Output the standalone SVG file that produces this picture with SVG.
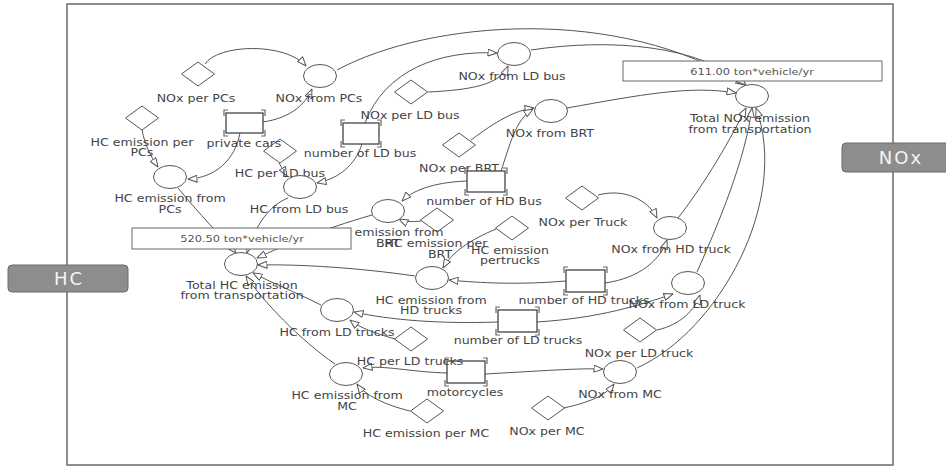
<svg xmlns="http://www.w3.org/2000/svg" width="946" height="466" viewBox="0 0 946 466">
<defs>
<marker id="arr" markerUnits="userSpaceOnUse" markerWidth="10" markerHeight="8" viewBox="0 0 10 8" refX="9.5" refY="4" orient="auto">
<path d="M0.5,0.5 L9.5,4 L0.5,7.5 Z" fill="#fff" stroke="#555" stroke-width="1"/>
</marker>
</defs>
<style>
.frame{fill:none;stroke:#6a6a6a;stroke-width:1.5}
.tab{fill:#8d8d8d;stroke:#6a6a6a;stroke-width:1}
.tabt{font-family:"DejaVu Sans",sans-serif;font-size:18px;fill:#f4f4f4;text-anchor:middle;letter-spacing:2px}
.c{fill:#fff;stroke:#555;stroke-width:1}
.d{fill:none;stroke:#555;stroke-width:1}
.r{fill:#fff;stroke:#444;stroke-width:1.3}
.br{fill:none;stroke:#666;stroke-width:1.2}
.l{font-family:"DejaVu Sans",sans-serif;font-size:10.5px;fill:#444;text-anchor:middle}
.v{font-family:"DejaVu Sans",sans-serif;font-size:9.5px;fill:#555;text-anchor:middle}
.vb{fill:#fff;stroke:#666;stroke-width:1}
.e{fill:none;stroke:#555;stroke-width:1;marker-end:url(#arr)}
</style>
<rect width="946" height="466" fill="#fff"/>
<rect class="frame" x="67" y="4" width="826" height="461"/>
<g id="tab-HC"><rect class="tab" x="8" y="265" width="120" height="27" rx="4"/><text class="tabt" x="69" y="285">HC</text></g>
<g id="tab-NOx"><rect class="tab" x="842" y="143" width="116" height="29" rx="4"/><text class="tabt" x="901" y="164">NOx</text></g>

<g id="connectors">
<path class="e" d="M205,64 C218,44 285,42 306,66"/>
<path class="e" d="M263,122 C290,118 305,105 312,89"/>
<path class="e" d="M337,70 C430,20 620,5 745,85"/>
<path class="e" d="M531,50 C610,38 700,45 746,85"/>
<path class="e" d="M365,123 C385,70 440,50 497,53"/>
<path class="e" d="M428,92 C470,90 500,85 508,66"/>
<path class="e" d="M471,140 C495,122 515,110 534,108"/>
<path class="e" d="M501,171 C510,145 515,120 533,109"/>
<path class="e" d="M567,108 C640,95 690,85 736,93"/>
<path class="e" d="M598,195 C625,188 648,200 657,218"/>
<path class="e" d="M605,283 C640,278 660,260 667,240"/>
<path class="e" d="M678,218 C700,190 725,150 746,108"/>
<path class="e" d="M697,272 C720,220 745,160 752,108"/>
<path class="e" d="M537,322 C600,318 640,305 673,294"/>
<path class="e" d="M657,330 C680,325 695,310 700,295"/>
<path class="e" d="M637,368 C720,330 790,200 756,108"/>
<path class="e" d="M485,374 C540,371 580,368 603,369"/>
<path class="e" d="M564,408 C590,402 605,396 614,384"/>
<path class="e" d="M142,130 C145,145 150,155 158,167"/>
<path class="e" d="M240,133 C235,160 215,178 188,179"/>
<path class="e" d="M279,163 L287,176"/>
<path class="e" d="M362,144 C355,165 340,178 317,183"/>
<path class="e" d="M178,188 C200,215 220,235 236,253"/>
<path class="e" d="M288,198 C270,205 255,225 247,253"/>
<path class="e" d="M467,181 C440,182 415,188 402,201"/>
<path class="e" d="M421,221 C412,222 405,222 399,219"/>
<path class="e" d="M372,215 C320,230 285,245 257,258"/>
<path class="e" d="M496,229 C470,240 452,252 443,268"/>
<path class="e" d="M566,281 C520,285 480,283 449,280"/>
<path class="e" d="M415,276 C360,268 300,264 258,265"/>
<path class="e" d="M498,322 C440,324 390,320 354,312"/>
<path class="e" d="M395,339 C375,333 360,328 350,320"/>
<path class="e" d="M321,305 C295,292 270,282 253,273"/>
<path class="e" d="M447,373 C410,372 385,365 363,368"/>
<path class="e" d="M410,411 C385,405 365,395 357,384"/>
<path class="e" d="M335,364 C300,340 262,300 246,276"/>
</g>

<g id="nox-per-pcs"><polygon class="d" points="198,62 214.5,74 198,86 181.5,74"/><text class="l" transform="scale(1.2,1)" x="163.3" y="102">NOx per PCs</text></g>
<g id="nox-from-pcs"><ellipse class="c" cx="320" cy="76" rx="16.5" ry="11.5"/><text class="l" transform="scale(1.2,1)" x="265.8" y="102">NOx from PCs</text></g>
<g id="nox-from-ld-bus"><ellipse class="c" cx="514" cy="54" rx="16.5" ry="11.5"/><text class="l" transform="scale(1.2,1)" x="426.7" y="80">NOx from LD bus</text></g>
<g id="nox-per-ld-bus"><polygon class="d" points="411,80 427.5,92 411,104 394.5,92"/><text class="l" transform="scale(1.2,1)" x="341.7" y="119">NOx per LD bus</text></g>
<g id="nox-from-brt"><ellipse class="c" cx="551" cy="111" rx="16.5" ry="11.5"/><text class="l" transform="scale(1.2,1)" x="458.3" y="137">NOx from BRT</text></g>
<g id="nox-per-brt"><polygon class="d" points="459,133 475.5,145 459,157 442.5,145"/><text class="l" transform="scale(1.2,1)" x="382.5" y="172">NOx per BRT</text></g>
<g id="total-nox"><ellipse class="c" cx="752" cy="96" rx="16.5" ry="11.5"/><text class="l" transform="scale(1.2,1)" x="625" y="122">Total NOx emission</text><text class="l" transform="scale(1.2,1)" x="625" y="133">from transportation</text></g>
<g id="nox-per-truck"><polygon class="d" points="582,186 598.5,198 582,210 565.5,198"/><text class="l" transform="scale(1.2,1)" x="485.8" y="226">NOx per Truck</text></g>
<g id="nox-from-hd-truck"><ellipse class="c" cx="670" cy="228" rx="16.5" ry="11.5"/><text class="l" transform="scale(1.2,1)" x="559.2" y="253">NOx from HD truck</text></g>
<g id="nox-from-ld-truck"><ellipse class="c" cx="688" cy="283" rx="16.5" ry="11.5"/><text class="l" transform="scale(1.2,1)" x="572.5" y="308">NOx from LD truck</text></g>
<g id="nox-per-ld-truck"><polygon class="d" points="640,318 656.5,330 640,342 623.5,330"/><text class="l" transform="scale(1.2,1)" x="532.5" y="357">NOx per LD truck</text></g>
<g id="nox-from-mc"><ellipse class="c" cx="620" cy="372" rx="16.5" ry="11.5"/><text class="l" transform="scale(1.2,1)" x="516.7" y="398">NOx from MC</text></g>
<g id="nox-per-mc"><polygon class="d" points="548,396 564.5,408 548,420 531.5,408"/><text class="l" transform="scale(1.2,1)" x="455.8" y="435">NOx per MC</text></g>

<g id="private-cars"><rect class="r" x="226" y="113" width="37" height="20"/><path class="br" d="M228,110 H224 V116 M261,110 H265 V116 M228,136 H224 V130 M261,136 H265 V130"/><text class="l" transform="scale(1.2,1)" x="203.3" y="147">private cars</text></g>
<g id="number-of-ld-bus"><rect class="r" x="343" y="123" width="36" height="21"/><path class="br" d="M345,120 H341 V126 M377,120 H381 V126 M345,147 H341 V141 M377,147 H381 V141"/><text class="l" transform="scale(1.2,1)" x="300" y="157">number of LD bus</text></g>
<g id="number-of-hd-bus"><rect class="r" x="467" y="171" width="38" height="21"/><path class="br" d="M469,168 H465 V174 M503,168 H507 V174 M469,195 H465 V189 M503,195 H507 V189"/><text class="l" transform="scale(1.2,1)" x="403.3" y="205">number of HD Bus</text></g>
<g id="number-of-hd-trucks"><rect class="r" x="566" y="270" width="39" height="22"/><path class="br" d="M568,267 H564 V273 M603,267 H607 V273 M568,295 H564 V289 M603,295 H607 V289"/><text class="l" transform="scale(1.2,1)" x="486.7" y="304">number of HD trucks</text></g>
<g id="number-of-ld-trucks"><rect class="r" x="498" y="310" width="39" height="22"/><path class="br" d="M500,307 H496 V313 M535,307 H539 V313 M500,335 H496 V329 M535,335 H539 V329"/><text class="l" transform="scale(1.2,1)" x="431.7" y="344">number of LD trucks</text></g>
<g id="motorcycles"><rect class="r" x="447" y="361" width="38" height="22"/><path class="br" d="M449,358 H445 V364 M483,358 H487 V364 M449,386 H445 V380 M483,386 H487 V380"/><text class="l" transform="scale(1.2,1)" x="387.5" y="396">motorcycles</text></g>

<g id="hc-per-pcs"><polygon class="d" points="142,106 158.5,118 142,130 125.5,118"/><text class="l" transform="scale(1.2,1)" x="118.3" y="146">HC emission per</text><text class="l" transform="scale(1.2,1)" x="118.3" y="156">PCs</text></g>
<g id="hc-from-pcs"><ellipse class="c" cx="170" cy="177" rx="16.5" ry="11.5"/><text class="l" transform="scale(1.2,1)" x="141.7" y="202">HC emission from</text><text class="l" transform="scale(1.2,1)" x="141.7" y="213">PCs</text></g>
<g id="hc-per-ld-bus"><polygon class="d" points="280,139 296.5,151 280,163 263.5,151"/><text class="l" transform="scale(1.2,1)" x="233.3" y="177">HC per LD bus</text></g>
<g id="hc-from-ld-bus"><ellipse class="c" cx="300" cy="187" rx="16.5" ry="11.5"/><text class="l" transform="scale(1.2,1)" x="249.2" y="213">HC from LD bus</text></g>
<g id="hc-from-brt"><ellipse class="c" cx="388" cy="211" rx="16.5" ry="11.5"/><text class="l" transform="scale(1.2,1)" x="323.3" y="236">HC emission from</text><text class="l" transform="scale(1.2,1)" x="323.3" y="247">BRT</text></g>
<g id="hc-per-brt"><polygon class="d" points="437,208 453.5,220 437,232 420.5,220"/><text class="l" transform="scale(1.2,1)" x="363.3" y="247">HC emission per</text><text class="l" transform="scale(1.2,1)" x="366.7" y="258">BRT</text></g>
<g id="hc-per-trucks"><polygon class="d" points="512,216 528.5,228 512,240 495.5,228"/><text class="l" transform="scale(1.2,1)" x="425" y="254">HC emission</text><text class="l" transform="scale(1.2,1)" x="425" y="264">pertrucks</text></g>
<g id="total-hc"><ellipse class="c" cx="241" cy="264" rx="16.5" ry="11.5"/><text class="l" transform="scale(1.2,1)" x="201.7" y="289">Total HC emission</text><text class="l" transform="scale(1.2,1)" x="201.7" y="299">from transportation</text></g>
<g id="hc-from-hd-trucks"><ellipse class="c" cx="432" cy="278" rx="16.5" ry="11.5"/><text class="l" transform="scale(1.2,1)" x="359.2" y="304">HC emission from</text><text class="l" transform="scale(1.2,1)" x="359.2" y="314">HD trucks</text></g>
<g id="hc-from-ld-trucks"><ellipse class="c" cx="337" cy="310" rx="16.5" ry="11.5"/><text class="l" transform="scale(1.2,1)" x="280.8" y="336">HC from LD trucks</text></g>
<g id="hc-per-ld-trucks"><polygon class="d" points="411,327 427.5,339 411,351 394.5,339"/><text class="l" transform="scale(1.2,1)" x="341.7" y="365">HC per LD trucks</text></g>
<g id="hc-from-mc"><ellipse class="c" cx="346" cy="374" rx="16.5" ry="11.5"/><text class="l" transform="scale(1.2,1)" x="289.2" y="399">HC emission from</text><text class="l" transform="scale(1.2,1)" x="289.2" y="410">MC</text></g>
<g id="hc-per-mc"><polygon class="d" points="427,399 443.5,411 427,423 410.5,411"/><text class="l" transform="scale(1.2,1)" x="355" y="437">HC emission per MC</text></g>

<g id="value-nox"><rect class="vb" x="623" y="61" width="259" height="20"/><text class="v" transform="scale(1.2,1)" x="626.7" y="75">611.00 ton*vehicle/yr</text></g>
<g id="value-hc"><rect class="vb" x="132" y="228" width="219" height="21"/><text class="v" transform="scale(1.2,1)" x="201.7" y="242">520.50 ton*vehicle/yr</text></g>
</svg>
